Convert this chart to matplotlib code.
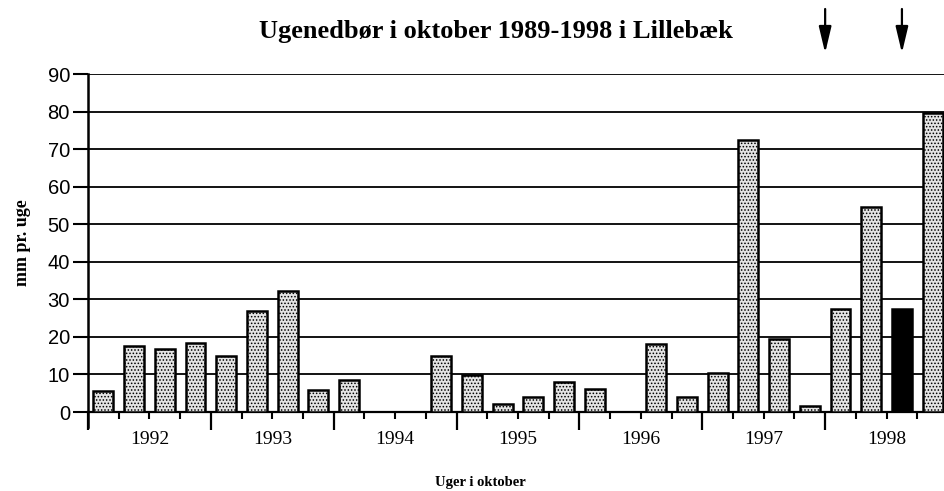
import matplotlib.pyplot as plt
import numpy as np

# weekly precipitation in October, 4 weeks per year
years = ["1992", "1993", "1994", "1995", "1996", "1997", "1998"]
weeks_per_year = 4
rain = [5.7, 17.6, 16.7, 18.4,
        15.0, 27.0, 32.3, 5.8,
        8.5, 0.0, 0.0, 15.0,
        9.8, 2.0, 4.0, 8.0,
        6.0, 0.0, 18.0, 4.0,
        10.5, 72.5, 19.5, 1.5,
        27.5, 54.5, 27.5, 79.5]
highlight = [26]          # black bar
arrow_at = [24.0, 26.5]   # arrow positions (week slots)

plt.rcParams["hatch.linewidth"] = 0.7

fig = plt.figure(figsize=(9.45, 4.91), dpi=100)
ax = fig.add_axes([88 / 945, 79 / 491, 860 / 945, 338 / 491])

n = len(rain)
x = np.arange(n) + 0.5
for i in range(n):
    if rain[i] <= 0:
        continue
    if i in highlight:
        ax.bar(x[i], rain[i], width=0.65, color="black", edgecolor="black",
               linewidth=1.8, zorder=3)
    else:
        ax.bar(x[i], rain[i], width=0.65, facecolor="#e4e4e4", edgecolor="black",
               hatch=".....", linewidth=1.8, zorder=3)

ax.set_xlim(0, n)
ax.set_ylim(0, 90)
ax.set_yticks(range(0, 91, 10))
ax.yaxis.grid(True, color="black", linewidth=1.3, zorder=1)
ax.set_axisbelow(True)

for s in ["right", "top"]:
    ax.spines[s].set_visible(False)
ax.spines["left"].set_linewidth(1.8)
ax.spines["bottom"].set_linewidth(1.6)
ax.spines["left"].set_bounds(-4, 90)

ax.set_xticks(np.arange(0, n + 1, weeks_per_year))
ax.set_xticks(np.arange(0, n + 1), minor=True)
ax.set_xticklabels([])
ax.tick_params(axis="x", which="major", length=13, width=1.6, direction="out")
ax.tick_params(axis="x", which="minor", length=5, width=1.5, direction="out")
ax.tick_params(axis="y", length=11, width=1.5, direction="out", labelsize=14.5, pad=2)
for lab in ax.get_yticklabels():
    lab.set_family("Liberation Sans")

for j, yr in enumerate(years):
    ax.text(j * weeks_per_year + weeks_per_year / 2, -5.0, yr, ha="center", va="top",
            fontsize=14, family="Liberation Serif")

ax.set_ylabel("mm pr. uge", fontsize=13, fontweight="bold", family="Liberation Serif",
              labelpad=12)
fig.text(0.508, 0.018, "Uger i oktober", ha="center", va="center", fontsize=10.5,
         fontweight="bold", family="Liberation Serif")
fig.text(0.525, 0.935, "Ugenedbør i oktober 1989-1998 i Lillebæk", ha="center",
         va="center", fontsize=19, fontweight="bold", family="Liberation Serif")

for a in arrow_at:
    ax.annotate("", xy=(a, 1 - 53 / 491), xycoords=("data", "figure fraction"),
                xytext=(a, 1 - 9 / 491), textcoords=("data", "figure fraction"),
                arrowprops=dict(arrowstyle="-|>,head_width=0.38,head_length=1.6",
                                color="black", linewidth=1.6, shrinkA=0, shrinkB=0),
                annotation_clip=False)

fig.savefig("out.png", dpi=100)
